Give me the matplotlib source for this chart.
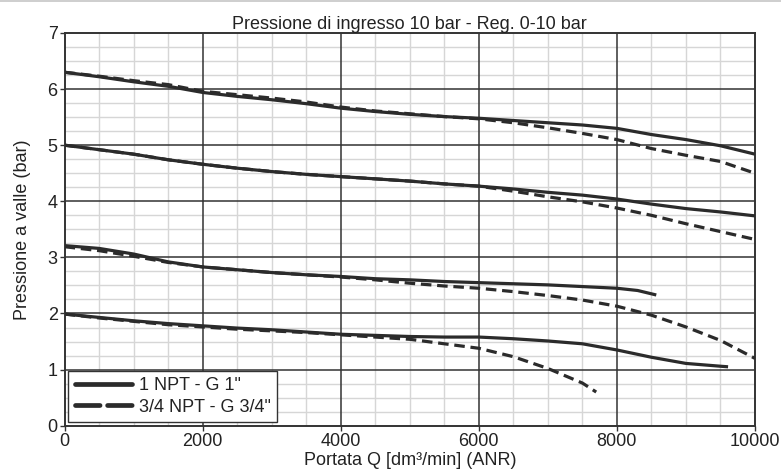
import matplotlib
matplotlib.use("Agg")
import matplotlib.pyplot as plt
import numpy as np
from matplotlib.patches import Rectangle

plt.rcParams['font.family'] = ['Liberation Sans', 'DejaVu Sans']

# Flow rate sample points (dm3/min ANR)
q = [0, 500, 1000, 1500, 2000, 2500, 3000, 3500, 4000, 4500, 5000,
     5500, 6000, 6500, 7000, 7500, 8000, 8500, 9000, 9500, 10000]

# 1 NPT - G 1" (solid curves), outlet pressure in bar
g1_set63 = [6.30, 6.22, 6.13, 6.05, 5.94, 5.87, 5.81, 5.74, 5.66, 5.60, 5.55,
            5.51, 5.48, 5.44, 5.40, 5.36, 5.30, 5.19, 5.10, 4.99, 4.84]
g1_set50 = [5.00, 4.92, 4.84, 4.74, 4.66, 4.59, 4.53, 4.48, 4.44, 4.40, 4.36,
            4.31, 4.27, 4.22, 4.16, 4.11, 4.04, 3.95, 3.87, 3.81, 3.74]
q_g1_set32 = [0, 500, 1000, 1500, 2000, 2500, 3000, 3500, 4000, 4500, 5000,
              5500, 6000, 6500, 7000, 7500, 8000, 8300, 8570]
g1_set32 = [3.21, 3.16, 3.06, 2.92, 2.83, 2.78, 2.73, 2.69, 2.66, 2.62, 2.60,
            2.57, 2.55, 2.53, 2.51, 2.48, 2.45, 2.41, 2.33]
q_g1_set20 = [0, 500, 1000, 1500, 2000, 2500, 3000, 3500, 4000, 4500, 5000,
              5500, 6000, 6500, 7000, 7500, 8000, 8500, 9000, 9500, 9610]
g1_set20 = [1.99, 1.93, 1.87, 1.82, 1.78, 1.74, 1.71, 1.67, 1.63, 1.61, 1.59,
            1.58, 1.58, 1.55, 1.51, 1.46, 1.35, 1.22, 1.11, 1.06, 1.05]

# 3/4 NPT - G 3/4" (dashed curves)
g34_set63 = [6.30, 6.23, 6.15, 6.08, 5.96, 5.90, 5.84, 5.77, 5.68, 5.61, 5.56,
             5.51, 5.47, 5.40, 5.31, 5.21, 5.10, 4.94, 4.82, 4.71, 4.50]
g34_set50 = [5.00, 4.92, 4.84, 4.74, 4.66, 4.59, 4.53, 4.48, 4.44, 4.40, 4.36,
             4.31, 4.27, 4.18, 4.08, 3.99, 3.88, 3.75, 3.60, 3.46, 3.32]
g34_set32 = [3.19, 3.12, 3.02, 2.91, 2.83, 2.78, 2.73, 2.69, 2.65, 2.60, 2.54,
             2.49, 2.45, 2.39, 2.32, 2.24, 2.13, 1.97, 1.76, 1.52, 1.20]
q_g34_set20 = [0, 500, 1000, 1500, 2000, 2500, 3000, 3500, 4000, 4500, 5000,
               5500, 6000, 6500, 7000, 7500, 7700]
g34_set20 = [1.99, 1.92, 1.86, 1.80, 1.76, 1.72, 1.69, 1.66, 1.62, 1.58, 1.54,
             1.46, 1.38, 1.23, 1.02, 0.76, 0.60]

x_ticks = [0, 2000, 4000, 6000, 8000, 10000]
y_ticks = [0, 1, 2, 3, 4, 5, 6, 7]

labels = ['1 NPT - G 1"', '3/4 NPT - G 3/4"']
title = "Pressione di ingresso 10 bar - Reg. 0-10 bar"
xlabel = "Portata Q [dm³/min] (ANR)"
ylabel = "Pressione a valle (bar)"

ink = "#2b2b2b"
text_c = "#222222"
fs = 13

fig = plt.figure(figsize=(7.81, 4.72), dpi=100)
ax = fig.add_axes([0.0828, 0.0981, 0.8839, 0.8320])

# thin grey band along the top edge of the sheet
fig.patches.append(Rectangle((0, 0.995), 1, 0.005, transform=fig.transFigure,
                             facecolor="#cfcfcf", edgecolor="none"))

# grid: light minor lines first, dark major lines on top of them
for xv in np.arange(0, 10001, 500):
    if xv % 2000:
        ax.axvline(xv, color="#d6d6d6", lw=1.0, zorder=0.5)
for yv in np.arange(0, 7.01, 0.25):
    if yv % 1:
        ax.axhline(yv, color="#d6d6d6", lw=1.0, zorder=0.5)
for xv in x_ticks[1:-1]:
    ax.axvline(xv, color="#333333", lw=1.1, zorder=1)
for yv in y_ticks[1:-1]:
    ax.axhline(yv, color="#333333", lw=1.1, zorder=1)

lw = 2.3
solid_kw = dict(color=ink, lw=lw, solid_capstyle="butt",
                solid_joinstyle="round", zorder=3)
dash_kw = dict(color=ink, lw=lw, linestyle=(0, (3.3, 1.8)),
               dash_capstyle="butt", dash_joinstyle="round", zorder=3)

ax.plot(q, g1_set63, **solid_kw, label=labels[0])
ax.plot(q, g1_set50, **solid_kw)
ax.plot(q_g1_set32, g1_set32, **solid_kw)
ax.plot(q_g1_set20, g1_set20, **solid_kw)

ax.plot(q, g34_set63, **dash_kw, label=labels[1])
ax.plot(q, g34_set50, **dash_kw)
ax.plot(q, g34_set32, **dash_kw)
ax.plot(q_g34_set20, g34_set20, **dash_kw)

ax.set_xlim(0, 10000)
ax.set_ylim(0, 7)
ax.set_xticks(x_ticks)
ax.set_yticks(y_ticks)

for s in ax.spines.values():
    s.set_color("#333333")
    s.set_linewidth(1.4)
    s.set_zorder(2)

ax.tick_params(which="major", length=3.5, width=1.0, color="#333333",
               labelsize=fs, labelcolor=text_c, pad=1.5)

ax.set_title(title, fontsize=fs, color=text_c, pad=3)
ax.set_xlabel(xlabel, fontsize=fs, color=text_c, labelpad=2)
ax.set_ylabel(ylabel, fontsize=fs, color=text_c, labelpad=12)

leg = ax.legend(loc="lower left", fontsize=fs, handlelength=3.2,
                handletextpad=0.35, borderpad=0.35, labelspacing=0.25,
                fancybox=False, framealpha=1, borderaxespad=0.2)
leg.get_frame().set_edgecolor("#333333")
leg.get_frame().set_linewidth(1.0)
leg.set_zorder(5)
for t in leg.get_texts():
    t.set_color(text_c)
handles = leg.get_lines()
for h in handles:
    h.set_linewidth(3.4)
    h.set_solid_capstyle("round")
    h.set_dash_capstyle("round")
handles[1].set_linestyle((0, (5.2, 1.6)))

fig.savefig("out.png", dpi=100)
